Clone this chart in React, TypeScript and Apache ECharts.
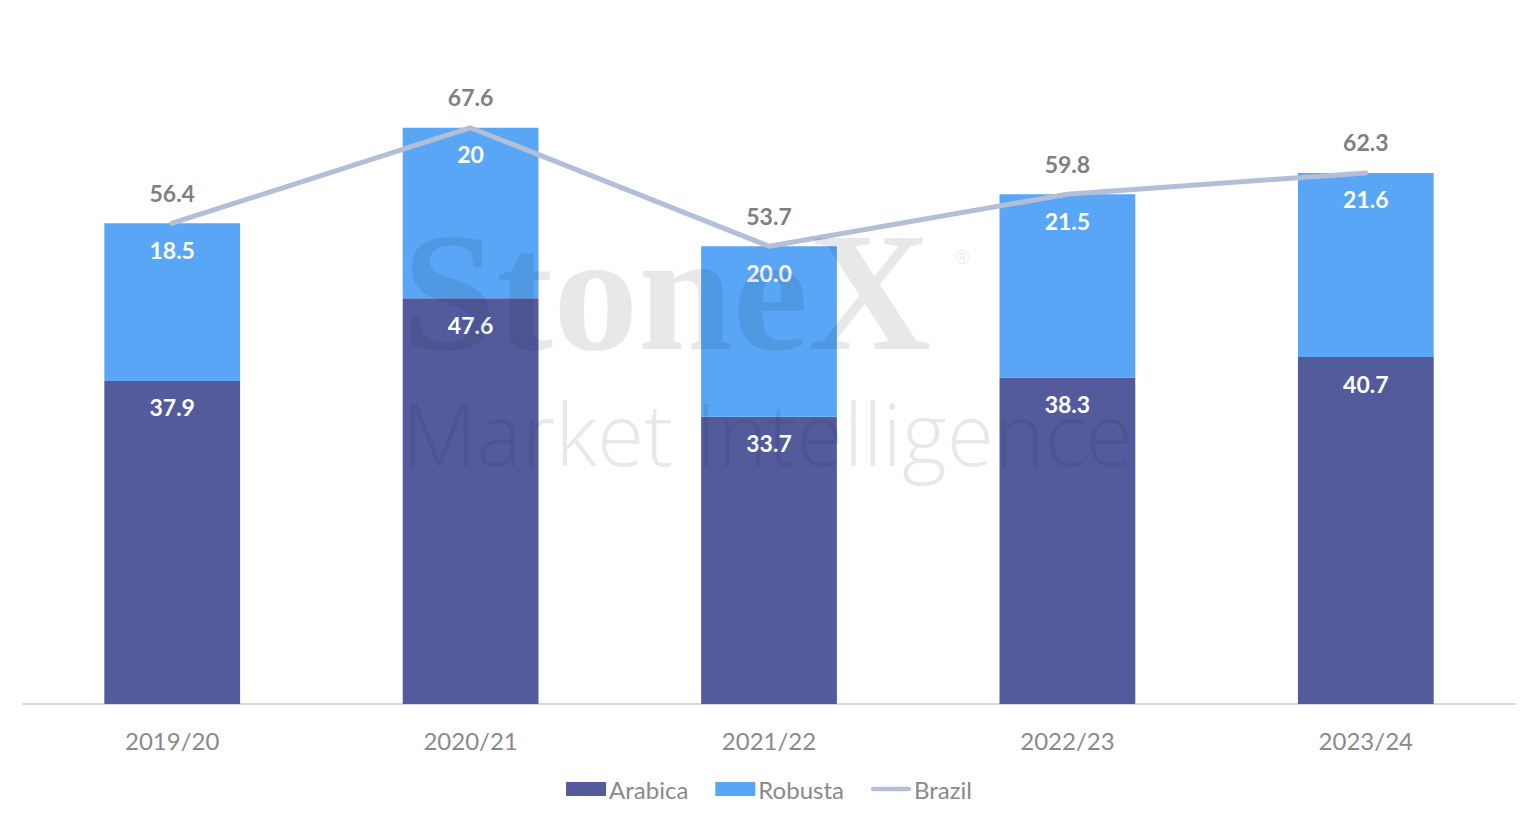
import React, { useEffect, useRef } from "react";
import * as echarts from "echarts";

const categories = ["2019/20", "2020/21", "2021/22", "2022/23", "2023/24"];
const arabica = [37.9, 47.6, 33.7, 38.3, 40.7];
const robusta = [18.5, 20, 20.0, 21.5, 21.6];
const robustaLabels = ["18.5", "20", "20.0", "21.5", "21.6"];
const brazil = [56.4, 67.6, 53.7, 59.8, 62.3];

const FONT = "Lato, 'Open Sans', sans-serif";
const WM = "rgba(20,30,50,0.1)";

export default function App() {
  const ref = useRef<HTMLDivElement>(null);
  useEffect(() => {
    if (!ref.current) return;
    const chart = echarts.init(ref.current, null, { renderer: "svg" });
    chart.setOption({
      animation: false,
      backgroundColor: "#ffffff",
      textStyle: { fontFamily: FONT },
      grid: { left: 23, right: 23, top: 22, bottom: 122, containLabel: false },
      legend: {
        bottom: 20,
        left: "center",
        itemWidth: 40,
        itemHeight: 14,
        itemGap: 27,
        textStyle: { color: "#8a8a8a", fontSize: 24, fontFamily: FONT, padding: [0, 0, 0, -2] },
        data: [
          { name: "Arabica", icon: "rect" },
          { name: "Robusta", icon: "rect" },
          { name: "Brazil", icon: "path://M2.5,0 L41.5,0 A2.5,2.5 0 0 1 41.5,5 L2.5,5 A2.5,2.5 0 0 1 2.5,0 Z" },
        ],
      },
      xAxis: {
        type: "category",
        data: categories,
        axisLine: { show: true, lineStyle: { color: "#d9d9d9", width: 2 } },
        axisTick: { show: false },
        axisLabel: { color: "#8a8a8a", fontSize: 24, margin: 24, fontFamily: FONT },
      },
      yAxis: {
        type: "value",
        min: 0,
        max: 80,
        show: false,
        splitLine: { show: false },
      },
      series: [
        {
          name: "Arabica",
          type: "bar",
          stack: "total",
          barWidth: "45.5%",
          data: arabica,
          itemStyle: { color: "#535b9d" },
          label: {
            show: true,
            position: "insideTop",
            distance: 15,
            color: "#ffffff",
            fontWeight: "bold",
            fontSize: 23,
            fontFamily: FONT,
          },
        },
        {
          name: "Robusta",
          type: "bar",
          stack: "total",
          barWidth: "45.5%",
          data: robusta,
          itemStyle: { color: "#59a6f7" },
          label: {
            show: true,
            position: "insideTop",
            distance: 15,
            color: "#ffffff",
            fontWeight: "bold",
            fontSize: 23,
            fontFamily: FONT,
            formatter: (p: any) => robustaLabels[p.dataIndex],
          },
        },
        {
          name: "Brazil",
          type: "line",
          data: brazil,
          symbol: "circle",
          symbolSize: 2,
          showSymbol: true,
          lineStyle: { color: "#b2bfd6", width: 5, cap: "round" },
          itemStyle: { color: "#b2bfd6" },
          z: 5,
          label: {
            show: true,
            position: "top",
            distance: 18,
            color: "#7f7f7f",
            fontWeight: "bold",
            fontSize: 23,
            fontFamily: FONT,
            formatter: (p: any) => Number(p.value).toFixed(1),
          },
        },
      ],
      graphic: [
        {
          type: "text",
          silent: true,
          z: 100,
          left: 402,
          top: 207,
          style: {
            text: "StoneX",
            font: "bold 170px 'Liberation Serif', 'DejaVu Serif', serif",
            lineHeight: 116,
            fill: WM,
          },
        },
        {
          type: "text",
          silent: true,
          z: 100,
          left: 955,
          top: 247,
          style: {
            text: "®",
            font: "20px 'Liberation Sans', sans-serif",
            fill: WM,
          },
        },
        {
          type: "text",
          silent: true,
          z: 100,
          left: 402,
          top: 389,
          style: {
            text: "Market Intelligence",
            font: "300 86px 'Open Sans', Lato, sans-serif",
            fill: WM,
          },
        },
      ],
    });
    return () => chart.dispose();
  }, []);
  return (
    <div
      ref={ref}
      style={{ position: "absolute", left: 0, top: 0, width: 1538, height: 826 }}
    />
  );
}
